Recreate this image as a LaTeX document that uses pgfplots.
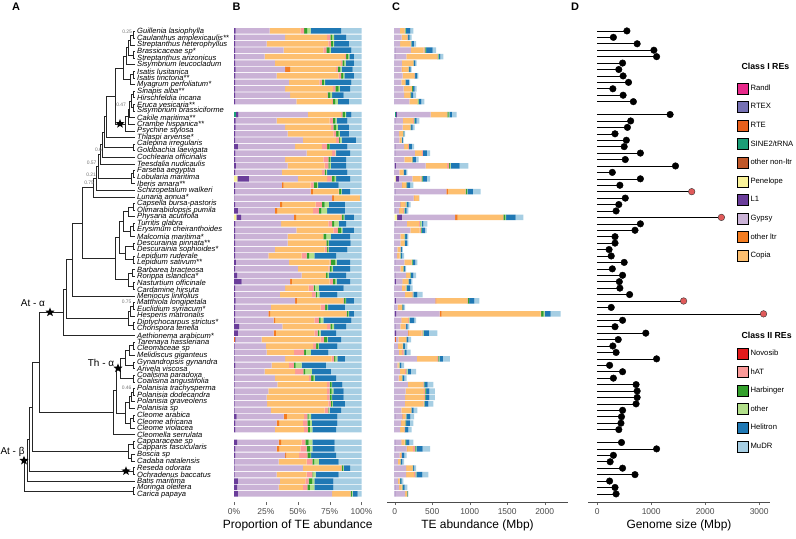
\documentclass[border=0pt]{standalone}
\usepackage{fontspec}
\setmainfont{Liberation Sans}
\usepackage{pgfplots}
\usepackage{pgfplotstable}
\pgfplotsset{compat=1.18}

\definecolor{cRandl}{HTML}{E7298A}
\definecolor{cRTEX}{HTML}{7570B3}
\definecolor{cRTE}{HTML}{E8601C}
\definecolor{cSINE}{HTML}{1B9E77}
\definecolor{cOnl}{HTML}{C0582A}
\definecolor{cPen}{HTML}{FAF39A}
\definecolor{cL1}{HTML}{6A3D9A}
\definecolor{cGyp}{HTML}{CAB2D6}
\definecolor{cOltr}{HTML}{F47C20}
\definecolor{cCop}{HTML}{FDBF6F}
\definecolor{cNov}{HTML}{E31A1C}
\definecolor{chAT}{HTML}{FB9A99}
\definecolor{cHarb}{HTML}{33A02C}
\definecolor{cOth}{HTML}{B2DF8A}
\definecolor{cHeli}{HTML}{1F78B4}
\definecolor{cMuDR}{HTML}{A6CEE3}
\definecolor{cBig}{HTML}{E05A5A}

\pgfdeclareplotmark{fstar}{%
  \pgfpathmoveto{\pgfpointpolar{90}{\pgfplotmarksize}}%
  \pgfpathlineto{\pgfpointpolar{126}{0.42\pgfplotmarksize}}%
  \pgfpathlineto{\pgfpointpolar{162}{\pgfplotmarksize}}%
  \pgfpathlineto{\pgfpointpolar{198}{0.42\pgfplotmarksize}}%
  \pgfpathlineto{\pgfpointpolar{234}{\pgfplotmarksize}}%
  \pgfpathlineto{\pgfpointpolar{270}{0.42\pgfplotmarksize}}%
  \pgfpathlineto{\pgfpointpolar{306}{\pgfplotmarksize}}%
  \pgfpathlineto{\pgfpointpolar{342}{0.42\pgfplotmarksize}}%
  \pgfpathlineto{\pgfpointpolar{18}{\pgfplotmarksize}}%
  \pgfpathlineto{\pgfpointpolar{54}{0.42\pgfplotmarksize}}%
  \pgfpathclose\pgfusepathqfill}

% slot (0-72, gaps at 12 and 63), TE class shares in %, total TE and genome size in Mbp
\pgfplotstableread{
pos RTE SINE Pen L1 Gyp oltr Cop hAT Harb oth Heli MuDR TE GS
0 0 0 0 1.3 26.7 0 24 3 2.5 2.5 24 16 249 550
1 0 0 0 1 39 0 33 2.5 1.5 1.5 9.5 12 227 300
2 0 0 0 .8 24.8 0 48.4 2 1.5 1 11.5 10 284 740
3 0 0 0 .8 38.2 0 31 2.5 2.5 1 16 8 551 1050
4 0 0 0 .8 23.2 0 63 1 1.5 1 3.5 6 649 1100
5 0 0 0 .8 31.2 0 52 1 1.5 1 6.5 6 293 470
6 0 0 0 1.3 38.7 4 36 1.5 2 1 8.5 7 227 400
7 0 0 0 1 32.5 0 48.5 2 1.5 1 7.5 6 316 480
8 0 0 0 .8 42.2 0 24 2 1.5 1 20.5 8 204 580
9 0 0 0 .8 39.2 0 37.6 2 2.5 1 7.9 9 293 290
10 0 0 0 .8 43.2 0 29 .5 2 1.5 9 14 284 480
11 0 0 0 .8 48.2 0 28 .5 2 2 8.5 10 396 670
13 0 1.5 0 2 54.5 0 26 1 2 1 4 8 827 1350
14 0 0 0 1.3 32.2 0 41.5 2.5 2 1 8.5 11 329 620
15 0 0 0 1.3 38.7 0 36 2 2 1.5 8.5 10 267 560
16 0 0 0 .8 41.2 0 36 2 2 1 7 10 138 330
17 0 0 0 .8 53.2 0 26 2.5 .5 1.5 11 4.5 116 540
18 0 0 0 3 45 0 21 4 2 0 14 11 258 500
19 0 0 0 1 56 0 20 2.5 0 .5 11 9 471 800
20 0 0 0 1 39 0 30 4 1.5 .5 12 12 320 520
21 0 0 0 1.5 40.5 0 29 3 1 1 12 12 982 1450
22 0 0 0 .8 36.7 0 31.5 2 1 1 16 11 169 280
23 0 0 2.6 9 38.4 0 23 3.5 2.5 1 11 9 471 800
24 0 0 0 .8 36.7 1.5 21 2.5 2.5 1 16 18 250 420
25 0 0 0 .8 59.2 1.8 20.2 .5 1.5 .5 6.5 9 1147 1750
26 0 0 0 .3 76.7 1.3 20.4 0 0 0 0 1.3 329 520
27 0 0 0 .8 35.2 1.8 26.2 5 2 3.5 12.5 13 213 400
28 0 0 0 3 29 1.8 28.2 4.5 2 4.5 14 13 182 350
29 0 0 1.8 3.7 41.5 1.8 35.2 .5 1.5 .5 7.5 6 1716 2300
30 0 0 0 1 36 0 37 3 1.5 3.5 6 12 436 800
31 0 0 0 .8 48.2 0 29 3.5 2.5 1 9 6 427 700
32 0 0 0 .8 41.2 0 28 0 2.5 3.5 15 9 182 330
33 0 0 0 .8 41.2 0 30 .5 1.5 .5 17 8.5 182 330
34 0 0 0 .8 31.2 0 39 2 1 .5 14.5 11 107 220
35 0 0 0 .8 26.2 0 26 4 2 4 17 20 124 260
36 0 0 0 1.5 41.5 0 32 1 3.5 1 10.5 9 302 500
37 0 0 0 .8 49.2 0 24 1 1.5 1 13.5 9 151 280
38 0 0 0 2.5 50.5 0 19 0 1.5 1 13.5 12 284 470
39 0 0 0 6 38 1.3 29.7 2.5 2 1 10.5 9 235 410
40 0 0 0 .8 39.2 0 18.5 4 1 3 19.5 14 240 420
41 0 0 0 .8 35.2 0 25 3 1 2 14 19 373 600
42 0 0 0 1.3 46.7 1.3 36.2 .5 1.5 .5 6 6 1129 1600
43 0 0 0 .8 28.2 0 39 3.5 1.8 .5 13.2 13 138 260
44 0 0 0 .8 26.2 1.3 59.7 .3 1.5 .5 3.7 6 2213 3080
45 0 0 0 .8 30.2 1.3 30.7 3.5 1.5 2 22 8 284 470
46 0 0 0 4 34 0 35 2.5 1.5 1.5 9.5 12 195 330
47 0 0 0 3 28 1.8 30.2 2.5 1 1.5 12 20 568 900
48 1 0 0 .5 20.1 0 46.4 2.5 2.5 .5 10.5 16 218 390
49 0 0 0 .5 24.5 0 37 2.5 1.5 .5 14.5 19 169 290
50 0 0 0 .5 25.1 0 21.4 8 1.3 4 13.7 26 213 350
51 0 0 0 .5 39.5 0 36.5 2 1 1.5 6 13 737 1100
52 0 0 0 1 28.5 0 13.5 4 1.3 4.7 19 28 124 230
53 0 0 0 .5 23.5 0 24 6.5 1.3 5.2 15 24 284 470
54 0 0 0 .5 31.5 0 27 1.5 2 1 16.5 20 160 300
55 0 0 0 .5 33.5 0 39 2 1.5 .5 8 15 515 720
56 0 0 0 .5 26.5 0 46 2 1.5 1.5 8 14 537 740
57 0 0 0 .5 25.1 0 47.4 2 1.5 .5 9 14 537 740
58 0 0 0 .5 25.5 0 48 2 1 .5 9.5 13 515 720
59 0 0 0 .5 28.5 0 42 3 .5 .5 9 16 302 470
60 0 0 0 2 37 2.5 13.5 2.5 1 2 20.5 19 258 450
61 0 0 0 1 32.5 1.8 18.7 3.5 2 1.5 20 19 249 440
62 0 0 0 1 31 0 23 3 1.5 2 18.5 20 227 400
64 0 0 0 2.5 32.5 2 16 3 2.5 3 17.5 21 249 450
65 0 0 0 1 32.5 1.8 16.7 5 2.5 2 17.5 21 471 1100
66 0 0 0 1 39 1 10 6.5 2.5 .5 19.5 20 160 300
67 0 0 0 .5 34.5 0 22 4.5 1.5 3.5 15.5 18 124 240
68 0 0 0 .5 53.5 0 30 .5 1 .5 5 9 284 470
69 0 0 0 .5 33 0 23.5 4.5 .5 2 18 18 449 700
70 0 0 0 3 33 0 20 2.5 3 1.5 15 22 116 230
71 0 0 0 2.5 32.5 0 19 3.5 2 3.5 15 22 169 330
72 0 0 0 3 74 0 14 .5 1 .5 4 3 182 350
}\tedata

\pgfplotsset{
  panel/.style={scale only axis, y dir=reverse, ymin=-0.5, clip=false},
  tefont/.style={font=\fontsize{8.5}{10}\selectfont, text=black!70},
}

\begin{document}
\begin{tikzpicture}
\path[use as bounding box] (0,0) rectangle (796bp,539bp);

% ---------------- A: tree ----------------
\begin{axis}[at={(0bp,507.3bp)}, anchor=north west, scale only axis, width=135bp, height=462.5bp,
  xmin=0, xmax=135, ymin=1, ymax=71, y dir=reverse, clip=false,
  axis line style={draw=none}, major tick length=0pt, xtick=\empty,
  ytick={1,...,71}, yticklabel pos=right,
  yticklabel style={font=\fontsize{7.6}{7}\selectfont\itshape, inner sep=0pt, xshift=2bp},
  unbounded coords=jump,
  yticklabels={Guillenia lasiophylla,Caulanthus amplexicaulis**,Streptanthus heterophyllus,Brassicaceae sp*,Streptanthus arizonicus,Sisymbrium leucocladum,Isatis lusitanica,Isatis tinctoria**,Myagrum perfoliatum*,Sinapis alba**,Hirschfeldia incana,Eruca vesicaria**,Sisymbrium brassiciforme,Cakile maritima**,Crambe hispanica**,Psychine stylosa,Thlaspi arvense*,Calepina irregularis,Goldbachia laevigata,Cochlearia officinalis,Teesdalia nudicaulis,Farsetia aegyptia,Lobularia maritima,Iberis amara**,Schizopetalum walkeri,Lunaria annua*,Capsella bursa-pastoris,Olimarabidopsis pumila,Physaria acutifolia,Turritis glabra,Erysimum cheiranthoides,Malcomia maritima*,Descurainia pinnata**,Descurainia sophioides*,Lepidium ruderale,Lepidium sativum**,Barbarea bracteosa,Rorippa islandica*,Nasturtium officinale,Cardamine hirsuta,Meniocus linifolius,Matthiola longipetala,Euclidium syriacum*,Hesperis matronalis,Diptychocarpus strictus*,Chorispora tenella,Aethionema arabicum*,Tarenaya hassleriana,Cleomaceae sp,Melidiscus giganteus,Gynandropsis gynandra,Arivela viscosa,Coalisina paradoxa,Coalisina angustifolia,Polanisia trachysperma,Polanisia dodecandra,Polanisia graveolens,Polanisia sp,Cleome arabica,Cleome africana,Cleome violacea,Cleomella serrulata,Capparaceae sp,Capparis fascicularis,Boscia sp,Cadaba natalensis,Reseda odorata,Ochradenus baccatus,Batis maritima,Moringa oleifera,Carica papaya}]
\addplot[black!85, line width=0.55bp] coordinates {
(135,1) (133,1) (133,2) (135,2) (nan,nan)
(133,1.5) (130,1.5) (130,3) (135,3) (nan,nan)
(135,4) (133,4) (133,5) (135,5) (nan,nan)
(130,2.25) (128,2.25) (128,4.5) (133,4.5) (nan,nan)
(128,3.375) (126,3.375) (126,6) (135,6) (nan,nan)
(135,7) (133,7) (133,8) (135,8) (nan,nan)
(133,7.5) (130,7.5) (130,9) (135,9) (nan,nan)
(126,4.6875) (123,4.6875) (123,8.25) (130,8.25) (nan,nan)
(135,10) (133,10) (133,11) (135,11) (nan,nan)
(135,12) (133,12) (133,13) (135,13) (nan,nan)
(133,10.5) (131,10.5) (131,12.5) (133,12.5) (nan,nan)
(131,11.5) (129.5,11.5) (129.5,14) (135,14) (nan,nan)
(129.5,12.75) (128,12.75) (128,15) (135,15) (nan,nan)
(128,13.875) (125,13.875) (125,16) (135,16) (nan,nan)
(123,6.469) (115,6.469) (115,14.938) (125,14.938) (nan,nan)
(115,10.703) (106,10.703) (106,17) (135,17) (nan,nan)
(135,18) (133,18) (133,19) (135,19) (nan,nan)
(106,13.852) (104,13.852) (104,18.5) (133,18.5) (nan,nan)
(104,16.176) (102,16.176) (102,20) (135,20) (nan,nan)
(102,18.088) (100,18.088) (100,21) (135,21) (nan,nan)
(135,22) (133,22) (133,23) (135,23) (nan,nan)
(133,22.5) (131,22.5) (131,24) (135,24) (nan,nan)
(100,19.544) (98,19.544) (98,23.25) (131,23.25) (nan,nan)
(98,21.397) (96,21.397) (96,25) (135,25) (nan,nan)
(96,23.198) (93,23.198) (93,26) (135,26) (nan,nan)
(135,27) (133,27) (133,28) (135,28) (nan,nan)
(133,27.5) (128,27.5) (128,29) (135,29) (nan,nan)
(135,30) (133,30) (133,31) (135,31) (nan,nan)
(133,30.5) (130,30.5) (130,32) (135,32) (nan,nan)
(128,28.25) (123,28.25) (123,31.25) (130,31.25) (nan,nan)
(135,33) (133,33) (133,34) (135,34) (nan,nan)
(135,35) (133,35) (133,36) (135,36) (nan,nan)
(133,33.5) (125,33.5) (125,35.5) (133,35.5) (nan,nan)
(123,29.75) (119,29.75) (119,34.5) (125,34.5) (nan,nan)
(135,37) (132,37) (132,38) (135,38) (nan,nan)
(135,39) (133,39) (133,40) (135,40) (nan,nan)
(132,37.5) (128,37.5) (128,39.5) (133,39.5) (nan,nan)
(119,32.125) (115,32.125) (115,38.5) (128,38.5) (nan,nan)
(93,24.599) (82,24.599) (82,35.313) (115,35.313) (nan,nan)
(82,29.956) (72,29.956) (72,41) (135,41) (nan,nan)
(135,42) (133,42) (133,43) (135,43) (nan,nan)
(133,42.5) (130,42.5) (130,44) (135,44) (nan,nan)
(135,45) (133,45) (133,46) (135,46) (nan,nan)
(130,43.25) (128,43.25) (128,45.5) (133,45.5) (nan,nan)
(72,35.478) (66,35.478) (66,44.375) (128,44.375) (nan,nan)
(66,39.927) (63,39.927) (63,47) (135,47) (nan,nan)
(135,48) (133,48) (133,49) (135,49) (nan,nan)
(133,48.5) (129,48.5) (129,50) (135,50) (nan,nan)
(135,51) (133,51) (133,52) (135,52) (nan,nan)
(129,49.25) (125,49.25) (125,51.5) (133,51.5) (nan,nan)
(135,53) (133,53) (133,54) (135,54) (nan,nan)
(125,50.375) (120,50.375) (120,53.5) (133,53.5) (nan,nan)
(135,55) (133,55) (133,56) (135,56) (nan,nan)
(133,55.5) (131,55.5) (131,57) (135,57) (nan,nan)
(131,56.25) (129,56.25) (129,58) (135,58) (nan,nan)
(135,59) (133,59) (133,60) (135,60) (nan,nan)
(133,59.5) (130,59.5) (130,61) (135,61) (nan,nan)
(129,57.125) (125,57.125) (125,60.25) (130,60.25) (nan,nan)
(120,51.938) (116,51.938) (116,58.688) (125,58.688) (nan,nan)
(116,55.313) (113,55.313) (113,62) (135,62) (nan,nan)
(63,43.463) (39,43.463) (39,58.656) (113,58.656) (nan,nan)
(135,63) (133,63) (133,64) (135,64) (nan,nan)
(135,65) (131,65) (131,66) (135,66) (nan,nan)
(133,63.5) (128,63.5) (128,65.5) (131,65.5) (nan,nan)
(39,51.06) (32,51.06) (32,64.5) (128,64.5) (nan,nan)
(135,67) (133,67) (133,68) (135,68) (nan,nan)
(32,57.78) (29,57.78) (29,67.5) (133,67.5) (nan,nan)
(29,62.64) (27,62.64) (27,69) (135,69) (nan,nan)
(135,70) (133,70) (133,71) (135,71) (nan,nan)
(27,65.82) (24,65.82) (24,70.5) (133,70.5)
};
\addplot[only marks, mark=fstar, mark size=4.8bp, black] coordinates {
(50,43.463) (118,51.938) (120,14.938) (126,67.5) (24,65.9)};
\begin{scope}[every node/.style={font=\fontsize{5}{5}\selectfont, text=black!55, inner sep=0.3bp, anchor=east}]
\node at (axis cs:132.5,1.0) {0.25};
\node at (axis cs:126.5,12) {0.47};
\node at (axis cs:102.5,18.9) {0.6};
\node at (axis cs:97,20.8) {0.57};
\node at (axis cs:96.5,22.6) {0.21};
\node at (axis cs:94.5,23.85) {0.75};
\node at (axis cs:132,41.9) {0.75};
\node at (axis cs:132,54.9) {0.46};
\end{scope}
\begin{scope}[every node/.style={font=\fontsize{10}{10}\selectfont}]
\node at (axis cs:33,42.06) {At - α};
\node at (axis cs:101,51.1) {Th - α};
\node at (axis cs:12.5,64.6) {At - β};
\end{scope}
\end{axis}

% ---------------- B: proportions ----------------
\begin{axis}[panel, at={(234bp,511.3bp)}, anchor=north west, width=127.5bp, height=474.3bp,
  xbar stacked, bar width=5.5bp, xmin=0, xmax=100, ymax=73.26,
  axis x line*=bottom, x axis line style={draw=none}, axis y line=none,
  xtick={0,25,50,75,100}, xticklabels={0\%,25\%,50\%,75\%,100\%},
  tick align=outside, major tick length=3bp, tick style={black!60},
  ticklabel style={tefont}, xlabel={Proportion of TE abundance},
  xlabel style={font=\fontsize{12}{12}\selectfont, yshift=2bp},
  every axis plot/.append style={draw=none}]
\addplot[fill=cRTE] table[y=pos, x=RTE]{\tedata};
\addplot[fill=cSINE] table[y=pos, x=SINE]{\tedata};
\addplot[fill=cPen] table[y=pos, x=Pen]{\tedata};
\addplot[fill=cL1] table[y=pos, x=L1]{\tedata};
\addplot[fill=cGyp] table[y=pos, x=Gyp]{\tedata};
\addplot[fill=cOltr] table[y=pos, x=oltr]{\tedata};
\addplot[fill=cCop] table[y=pos, x=Cop]{\tedata};
\addplot[fill=chAT] table[y=pos, x=hAT]{\tedata};
\addplot[fill=cHarb] table[y=pos, x=Harb]{\tedata};
\addplot[fill=cOth] table[y=pos, x=oth]{\tedata};
\addplot[fill=cHeli] table[y=pos, x=Heli]{\tedata};
\addplot[fill=cMuDR] table[y=pos, x=MuDR]{\tedata};
\end{axis}

% ---------------- C: abundance ----------------
\begin{axis}[panel, at={(387bp,511.3bp)}, anchor=north west, width=181bp, height=474.3bp,
  xbar stacked, bar width=5.5bp, xmin=-103, xmax=2311, ymax=73.26,
  axis x line*=bottom, x axis line style={-, black!70}, axis y line=none,
  xtick={0,500,1000,1500,2000},
  /pgf/number format/assume math mode=true, /pgf/number format/1000 sep={},
  tick align=outside, major tick length=3bp, tick style={black!60},
  ticklabel style={tefont}, xlabel={TE abundance (Mbp)},
  xlabel style={font=\fontsize{12}{12}\selectfont, yshift=2bp},
  every axis plot/.append style={draw=none}]
\addplot[fill=cRTE] table[y=pos, x expr=\thisrow{RTE}*\thisrow{TE}/100]{\tedata};
\addplot[fill=cSINE] table[y=pos, x expr=\thisrow{SINE}*\thisrow{TE}/100]{\tedata};
\addplot[fill=cPen] table[y=pos, x expr=\thisrow{Pen}*\thisrow{TE}/100]{\tedata};
\addplot[fill=cL1] table[y=pos, x expr=\thisrow{L1}*\thisrow{TE}/100]{\tedata};
\addplot[fill=cGyp] table[y=pos, x expr=\thisrow{Gyp}*\thisrow{TE}/100]{\tedata};
\addplot[fill=cOltr] table[y=pos, x expr=\thisrow{oltr}*\thisrow{TE}/100]{\tedata};
\addplot[fill=cCop] table[y=pos, x expr=\thisrow{Cop}*\thisrow{TE}/100]{\tedata};
\addplot[fill=chAT] table[y=pos, x expr=\thisrow{hAT}*\thisrow{TE}/100]{\tedata};
\addplot[fill=cHarb] table[y=pos, x expr=\thisrow{Harb}*\thisrow{TE}/100]{\tedata};
\addplot[fill=cOth] table[y=pos, x expr=\thisrow{oth}*\thisrow{TE}/100]{\tedata};
\addplot[fill=cHeli] table[y=pos, x expr=\thisrow{Heli}*\thisrow{TE}/100]{\tedata};
\addplot[fill=cMuDR] table[y=pos, x expr=\thisrow{MuDR}*\thisrow{TE}/100]{\tedata};
\end{axis}

% ---------------- D: genome size ----------------
\begin{axis}[panel, at={(588bp,511.3bp)}, anchor=north west, width=182bp, height=474.3bp,
  xmin=-170, xmax=3200, ymax=73.26,
  axis x line*=bottom, x axis line style={-, black!70}, axis y line=none,
  xtick={0,1000,2000,3000},
  /pgf/number format/assume math mode=true, /pgf/number format/1000 sep={},
  tick align=outside, major tick length=3bp, tick style={black!60},
  ticklabel style={tefont}, xlabel={Genome size (Mbp)},
  xlabel style={font=\fontsize{12}{12}\selectfont, yshift=2bp}]
\addplot[xcomb, black, line width=0.6bp] table[y=pos, x=GS]{\tedata};
\addplot[only marks, mark=*, mark size=3.3bp, black, restrict x to domain=-1:1500] table[y=pos, x=GS]{\tedata};
\addplot[only marks, mark=*, mark size=3.3bp, draw=black!80, fill=cBig, restrict x to domain=1500:9000] table[y=pos, x=GS]{\tedata};
\end{axis}

% ---------------- legends ----------------
\pgfplotsset{legkey/.style={hide axis, scale only axis, width=1bp, height=1bp, xmin=0, xmax=1, ymin=0, ymax=1,
  legend image code/.code={\fill[##1] (0bp,-5.5bp) rectangle (11bp,5.5bp);},
  legend style={at={(0,1)}, anchor=north west, draw=none, fill=none, inner sep=0pt,
    font=\fontsize{7.7}{9}\selectfont, row sep=7.2bp, cells={anchor=west}}}}
\begin{axis}[legkey, at={(737bp,456.5bp)}, anchor=north west]
\addlegendimage{fill=cRandl}\addlegendentry{Randl}
\addlegendimage{fill=cRTEX}\addlegendentry{RTEX}
\addlegendimage{fill=cRTE}\addlegendentry{RTE}
\addlegendimage{fill=cSINE}\addlegendentry{SINE2/tRNA}
\addlegendimage{fill=cOnl}\addlegendentry{other non-ltr}
\addlegendimage{fill=cPen}\addlegendentry{Penelope}
\addlegendimage{fill=cL1}\addlegendentry{L1}
\addlegendimage{fill=cGyp}\addlegendentry{Gypsy}
\addlegendimage{fill=cOltr}\addlegendentry{other ltr}
\addlegendimage{fill=cCop}\addlegendentry{Copia}
\end{axis}
\begin{axis}[legkey, at={(737bp,191.5bp)}, anchor=north west]
\addlegendimage{fill=cNov}\addlegendentry{Novosib}
\addlegendimage{fill=chAT}\addlegendentry{hAT}
\addlegendimage{fill=cHarb}\addlegendentry{Harbinger}
\addlegendimage{fill=cOth}\addlegendentry{other}
\addlegendimage{fill=cHeli}\addlegendentry{Helitron}
\addlegendimage{fill=cMuDR}\addlegendentry{MuDR}
\end{axis}
\node[anchor=west, font=\bfseries\fontsize{8.8}{10}\selectfont] at (738bp,472.3bp) {Class I REs};
\node[anchor=west, font=\bfseries\fontsize{8.8}{10}\selectfont] at (738bp,204bp) {Class II REs};

\begin{scope}[every node/.style={font=\bfseries\fontsize{11}{11}\selectfont}]
\node at (16bp,532bp) {A};
\node at (236.5bp,532bp) {B};
\node at (396bp,532bp) {C};
\node at (575bp,532bp) {D};
\end{scope}
\end{tikzpicture}
\end{document}
